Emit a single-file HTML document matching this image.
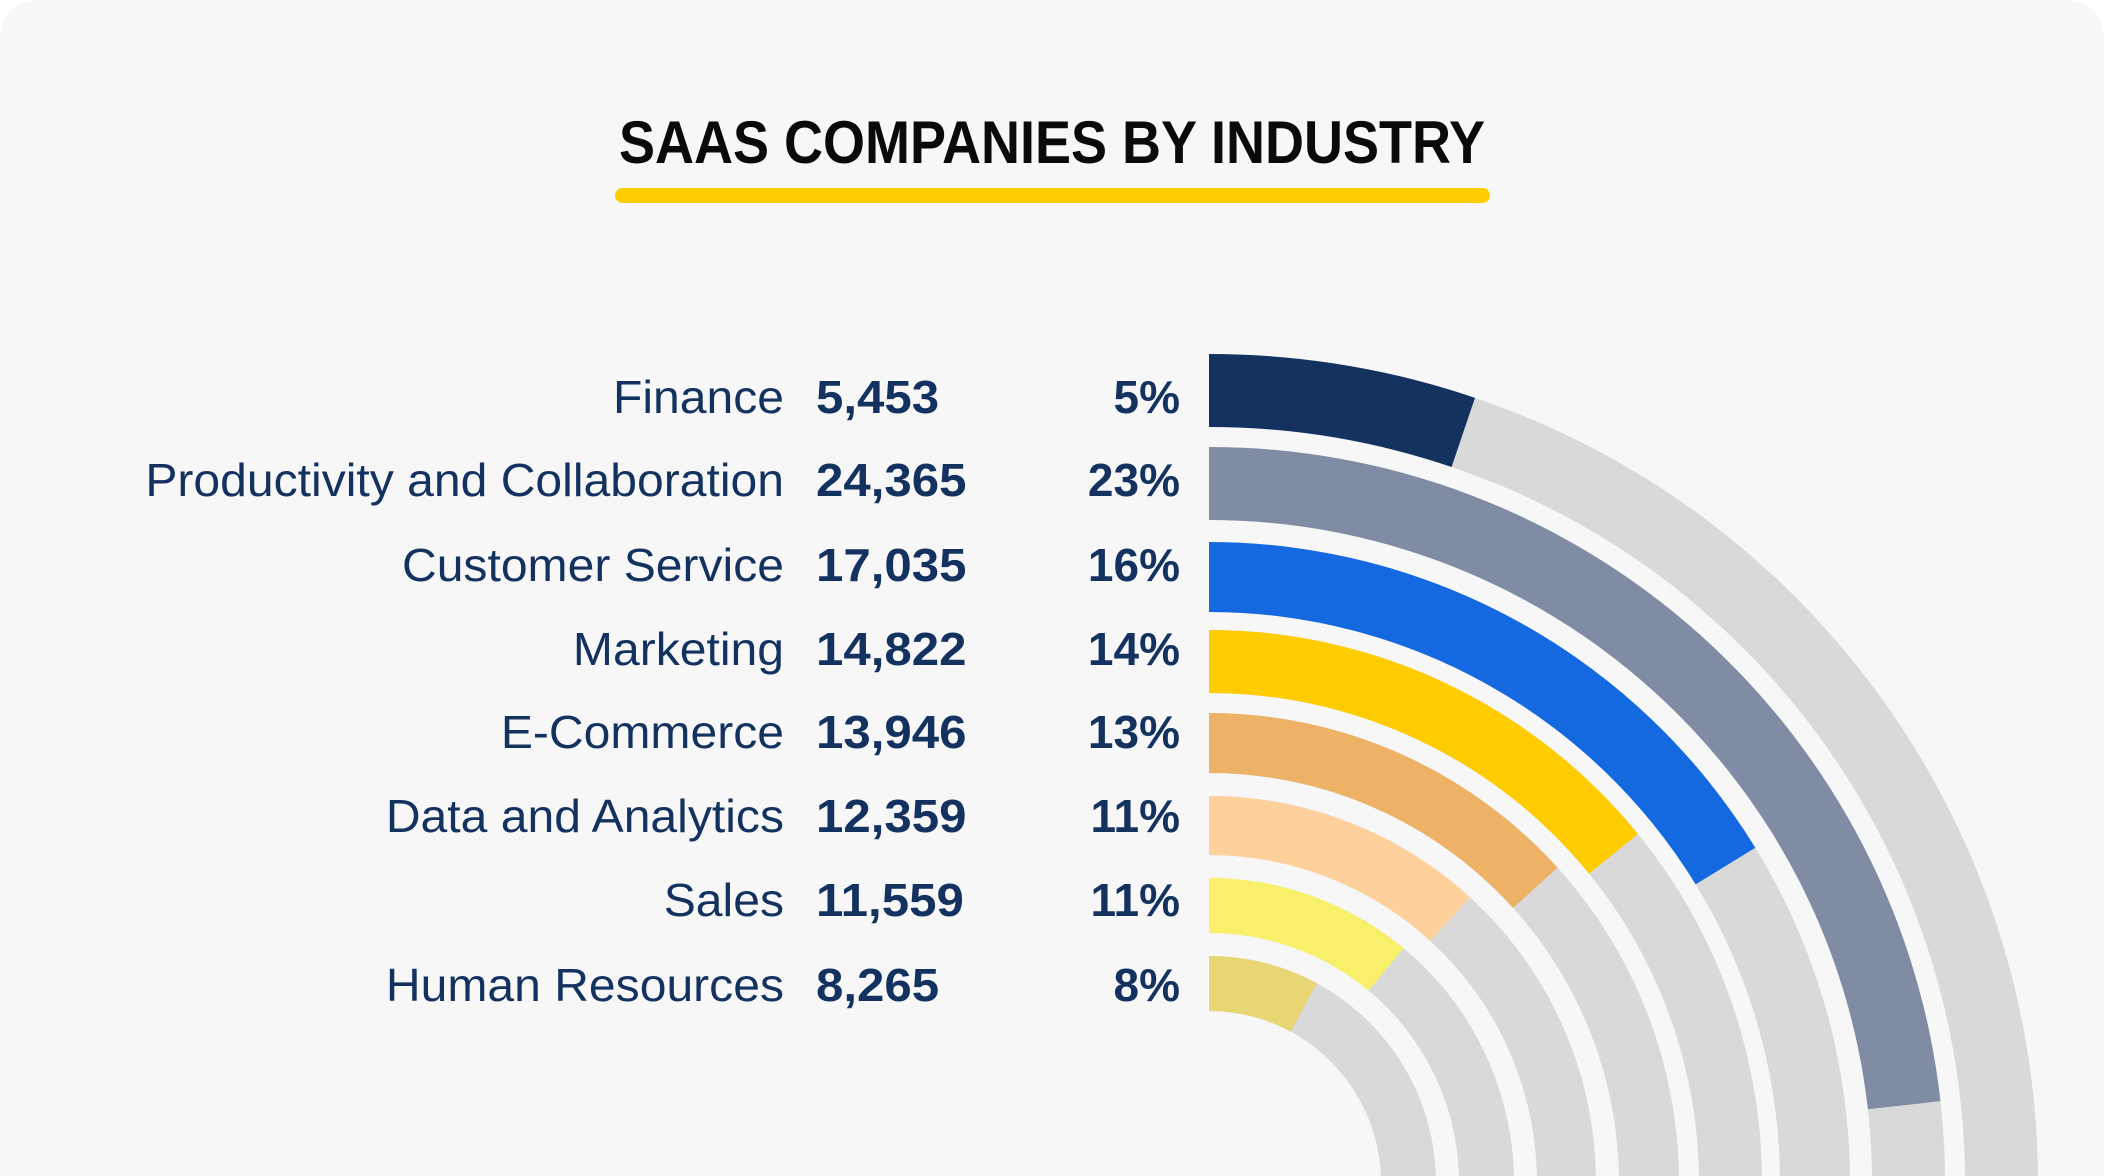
<!DOCTYPE html>
<html><head><meta charset="utf-8"><style>
html,body{margin:0;padding:0;background:#fff;}
#card{position:absolute;left:0;top:0;width:2104px;height:1176px;background:#f7f7f7;border-radius:36px 36px 0 0;overflow:hidden;}
svg{position:absolute;left:0;top:0;}
text{font-family:"Liberation Sans",Arial,sans-serif;}
</style></head><body>
<div id="card">
<svg id="chart" width="2104" height="1176">
<text x="1052" y="163" text-anchor="middle" font-size="60" font-weight="bold" fill="#0a0a0a" textLength="866" lengthAdjust="spacingAndGlyphs">SAAS COMPANIES BY INDUSTRY</text>
<rect x="615" y="188" width="875" height="15" rx="7.5" fill="#ffcc00"/>
<g id="rings"></g>
<g id="labels"></g>
</svg>
</div>
<script>
const categories = ["Finance","Productivity and Collaboration","Customer Service","Marketing","E-Commerce","Data and Analytics","Sales","Human Resources"];
const values = [5453,24365,17035,14822,13946,12359,11559,8265];
const totalCompanies = 104900;
const valueLabels = ["5,453","24,365","17,035","14,822","13,946","12,359","11,559","8,265"];
const pctLabels = ["5%","23%","16%","14%","13%","11%","11%","8%"];
const colors = ["#14325f","#7f8ca3","#1469e0","#ffcc00","#edb266","#fdd09c","#f8f06a","#e8d574"];

const NS="http://www.w3.org/2000/svg";
const cx=1209, cy=1183;
const outerR=[829,736,641,553,470,387,305,227];
const innerR=[756,663,571,490,410,328,250,172];
const rowY=[396,479,564,648,731,815,899,984];
function angleScale(v){return v/totalCompanies*2*Math.PI;}
function pt(r,a){return [cx+r*Math.sin(a), cy-r*Math.cos(a)];}
function arc(ro,ri,a0,a1){
  const large=(a1-a0)>Math.PI?1:0;
  const p1=pt(ro,a0),p2=pt(ro,a1),p3=pt(ri,a1),p4=pt(ri,a0);
  return `M${p1[0]},${p1[1]} A${ro},${ro} 0 ${large} 1 ${p2[0]},${p2[1]} L${p3[0]},${p3[1]} A${ri},${ri} 0 ${large} 0 ${p4[0]},${p4[1]} Z`;
}
const rings=document.getElementById('rings');
const labels=document.getElementById('labels');
function stretch(t,f){const w=t.getComputedTextLength();t.setAttribute('textLength',w*f);t.setAttribute('lengthAdjust','spacingAndGlyphs');}
categories.forEach((c,i)=>{
  const track=document.createElementNS(NS,'path');
  track.setAttribute('d',arc(outerR[i],innerR[i],0,Math.PI/2));
  track.setAttribute('fill','#d9d9d9');
  
  
  rings.appendChild(track);
  const bar=document.createElementNS(NS,'path');
  bar.setAttribute('d',arc(outerR[i],innerR[i],0,angleScale(values[i])));
  bar.setAttribute('fill',colors[i]);
  
  
  rings.appendChild(bar);

  const t1=document.createElementNS(NS,'text');
  t1.setAttribute('x',784);t1.setAttribute('y',rowY[i]+17);
  t1.setAttribute('text-anchor','end');t1.setAttribute('font-size','46');t1.setAttribute('fill','#14325f');
  t1.textContent=c;
  
  
  labels.appendChild(t1);
  stretch(t1,1.045);
  const t2=document.createElementNS(NS,'text');
  t2.setAttribute('x',816);t2.setAttribute('y',rowY[i]+17);
  t2.setAttribute('font-size','46');t2.setAttribute('font-weight','bold');t2.setAttribute('fill','#14325f');
  t2.textContent=valueLabels[i];
  
  
  labels.appendChild(t2);
  stretch(t2,1.07);
  const t3=document.createElementNS(NS,'text');
  t3.setAttribute('x',1180);t3.setAttribute('y',rowY[i]+17);
  t3.setAttribute('text-anchor','end');t3.setAttribute('font-size','46');t3.setAttribute('font-weight','bold');t3.setAttribute('fill','#14325f');
  t3.textContent=pctLabels[i];
  
  
  labels.appendChild(t3);
});
</script>
</body></html>
